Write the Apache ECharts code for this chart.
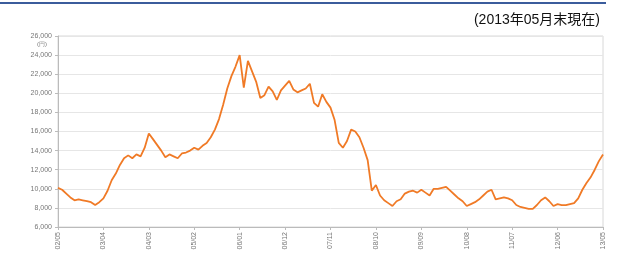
<!DOCTYPE html>
<html>
<head>
<meta charset="utf-8">
<script src="https://cdn.jsdelivr.net/npm/echarts@6/dist/echarts.min.js"></script>
<style>
  html, body { margin: 0; padding: 0; background: #fff; }
  #chart { width: 629px; height: 259px; }
</style>
</head>
<body>
<div id="chart"></div>
<script>
// 月末基準価額（2002/05〜2013/05）
var months = []
for (var y = 2002; y <= 2013; y++) {
  for (var m = 1; m <= 12; m++) {
    if ((y === 2002 && m < 5) || (y === 2013 && m > 5)) continue
    months.push(String(y).slice(2) + '/' + (m < 10 ? '0' + m : m))
  }
}

var navValues = [
  10100, 9900, 9500, 9100, 8800, 8900, 8800, 8700, 8600, 8300, 8600, 9000,
  9800, 10900, 11600, 12500, 13200, 13500, 13200, 13600, 13400, 14300, 15800, 15200,
  14600, 14000, 13300, 13600, 13400, 13200, 13700, 13800, 14000, 14300, 14100, 14500,
  14800, 15400, 16200, 17300, 18800, 20500, 21800, 22800, 24000, 20600, 23400, 22300,
  21200, 19500, 19800, 20700, 20200, 19300, 20300, 20800, 21300, 20400, 20100, 20300,
  20500, 21000, 19000, 18600, 19900, 19100, 18500, 17200, 14800, 14300, 15000, 16200,
  16000, 15400, 14300, 13000, 9800, 10400, 9300, 8800, 8500, 8200, 8700, 8900,
  9500, 9700, 9800, 9600, 9900, 9600, 9300, 10000, 10000, 10100, 10200, 9800,
  9400, 9000, 8700, 8200, 8400, 8600, 8900, 9300, 9700, 9900, 8900, 9000,
  9100, 9000, 8800, 8300, 8100, 8000, 7900, 7900, 8300, 8800, 9100, 8700,
  8200, 8400, 8300, 8300, 8400, 8500, 9000, 9900, 10600, 11200, 12000, 12900,
  13600
]

var yTicks = [6000, 8000, 10000, 12000, 14000, 16000, 18000, 20000, 22000, 24000, 26000]

var myChart = echarts.init(document.getElementById('chart'))

myChart.setOption({
  animation: false,
  title: {
    text: '(2013年05月末現在)',
    right: 24,
    top: 8,
    textStyle: {
      fontFamily: 'Liberation Sans, Noto Sans CJK JP',
      fontSize: 14,
      fontWeight: 'normal',
      color: '#111'
    }
  },
  graphic: [
    {
      type: 'rect',
      shape: { x: 0, y: 2, width: 606, height: 2 },
      style: { fill: '#3b5c9c' }
    },
    {
      type: 'text',
      right: 582,
      top: 41,
      style: { text: '(円)', fontSize: 6, fill: '#777', textAlign: 'right' }
    }
  ],
  grid: {
    left: 58,
    right: 26,
    top: 36,
    bottom: 32,
    show: true,
    borderColor: '#d8d8d8',
    borderWidth: 1
  },
  xAxis: {
    type: 'category',
    boundaryGap: false,
    data: months,
    axisLine: { lineStyle: { color: '#bbbbbb' } },
    axisTick: { interval: 10, length: 3, lineStyle: { color: '#bbbbbb' } },
    axisLabel: {
      interval: 10,
      rotate: 90,
      fontSize: 7,
      color: '#777',
      margin: 5
    },
    splitLine: { show: false }
  },
  yAxis: {
    type: 'value',
    min: yTicks[0],
    max: yTicks[yTicks.length - 1],
    interval: 2000,
    axisLine: { show: true, lineStyle: { color: '#bbbbbb' } },
    axisTick: { show: true, length: 3, lineStyle: { color: '#bbbbbb' } },
    axisLabel: {
      fontSize: 7,
      color: '#777',
      margin: 6,
      formatter: function (v) {
        return v.toLocaleString('en-US')
      }
    },
    splitLine: { lineStyle: { color: '#e6e6e6' } }
  },
  series: [
    {
      type: 'line',
      data: navValues,
      showSymbol: false,
      lineStyle: { color: '#f07a26', width: 1.8 },
      itemStyle: { color: '#f07a26' }
    }
  ]
})
</script>
</body>
</html>
